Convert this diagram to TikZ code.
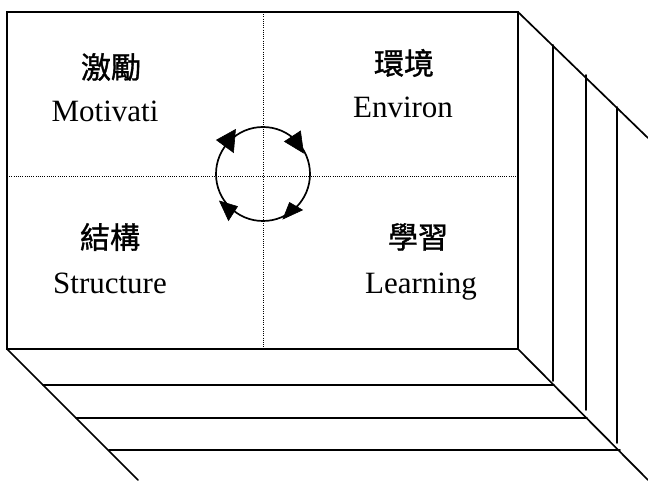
\documentclass[tikz,border=0pt]{standalone}
\usepackage{fontspec}
\setmainfont{Liberation Serif}
\newfontfamily\cjk[FakeBold=1.2]{Noto Sans CJK TC}
\usetikzlibrary{arrows.meta}
\begin{document}
\begin{tikzpicture}[x=1pt,y=1pt,
  edge/.style={line width=1.7pt, line cap=round},
  dotline/.style={line width=1pt, dash pattern=on 1pt off 1.2pt},
  zh/.style={font=\cjk\fontsize{30}{30}\selectfont, inner sep=0pt},
  en/.style={font=\fontsize{31}{31}\selectfont, inner sep=0pt, anchor=base},
  head/.style={fill=black, draw=black, line width=0.6pt, line join=miter}]
\useasboundingbox[fill=white] (0,0) rectangle (648,480);
% corners of the front face
\coordinate (tl) at (7,468);
\coordinate (tr) at (518,468);
\coordinate (br) at (518,131);
\coordinate (bl) at (7,131);
\coordinate (tm) at (263,468);
\coordinate (bm) at (263,131);
\coordinate (lm) at (7,303);
\coordinate (rm) at (518,303);
% dotted dividers
\draw[dotline] (tm) -- (bm);
\draw[dotline] (lm) -- (rm);
% front face
\draw[edge] (tl) rectangle (br);
% right side
\coordinate (rtop) at (648,342);
\coordinate (rbot) at (648,0);
\coordinate (lbot) at (138,0);
\draw[edge] (tr) -- (rtop);
\draw[edge] (br) -- (rbot);
\draw[edge] (bl) -- (lbot);
% bottom slabs
\coordinate (h1a) at (43,95);  \coordinate (h1b) at (554,95);
\coordinate (h2a) at (76,62);  \coordinate (h2b) at (587,62);
\coordinate (h3a) at (109,30); \coordinate (h3b) at (620,30);
\draw[edge] (h1a) -- (h1b);
\draw[edge] (h2a) -- (h2b);
\draw[edge] (h3a) -- (h3b);
% right slabs
\coordinate (v1a) at (553,435); \coordinate (v1b) at (553,99);
\coordinate (v2a) at (586,405); \coordinate (v2b) at (586,70);
\coordinate (v3a) at (617,373); \coordinate (v3b) at (617,37);
\draw[edge] (v1a) -- (v1b);
\draw[edge] (v2a) -- (v2b);
\draw[edge] (v3a) -- (v3b);
% cycle
\node[circle, draw, line width=1.7pt, minimum size=94pt, inner sep=0pt] (ring) at (263,306) {};
% arrowheads on the ring
\coordinate (a1) at (216.5,340); \coordinate (a2) at (235.5,350.5); \coordinate (a3) at (233.5,327.5);
\fill[head] (a1) -- (a2) -- (a3) -- cycle;
\coordinate (b1) at (303.5,327); \coordinate (b2) at (284.5,338.5); \coordinate (b3) at (300.5,349);
\fill[head] (b1) -- (b2) -- (b3) -- cycle;
\coordinate (c1) at (283,261); \coordinate (c2) at (289.5,277.5); \coordinate (c3) at (302.5,270);
\fill[head] (c1) -- (c2) -- (c3) -- cycle;
\coordinate (d1) at (219.5,279); \coordinate (d2) at (237.5,273.5); \coordinate (d3) at (228.5,259.5);
\fill[head] (d1) -- (d2) -- (d3) -- cycle;
% labels
\node[zh] (mzh) at (111,413) {激勵};
\node[en] (men) at (105,358) {Motivati};
\node[zh] (ezh) at (404,417) {環境};
\node[en] (een) at (403,362) {Environ};
\node[zh] (szh) at (110,243) {結構};
\node[en] (sen) at (110,187) {Structure};
\node[zh] (lzh) at (418,243) {學習};
\node[en] (len) at (421,187) {Learning};
\end{tikzpicture}
\end{document}
